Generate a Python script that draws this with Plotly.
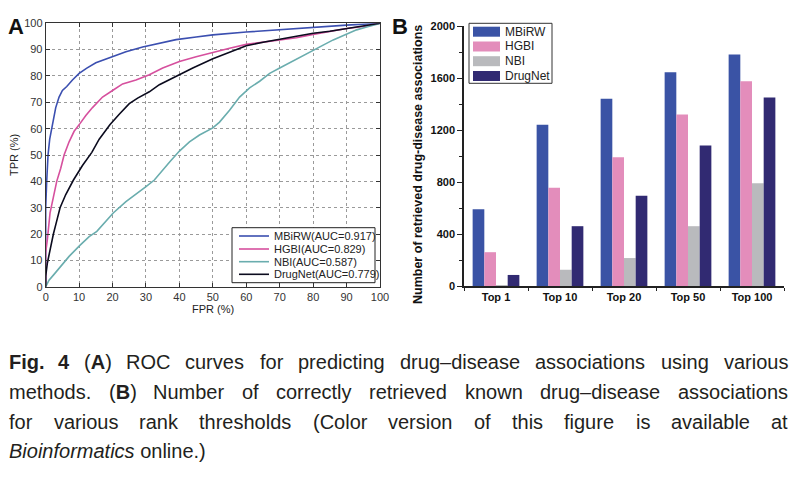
import plotly.graph_objects as go

# ---------------- data ----------------
methods = ["MBiRW", "HGBI", "NBI", "DrugNet"]
auc_values = [0.917, 0.829, 0.587, 0.779]

mbirw_fpr = [0, 0, 0.3, 0.7, 1.2, 2, 3, 4, 5, 6.3, 8, 10, 12.3, 15, 19, 24, 29, 34, 39, 45, 50, 60, 70, 80, 90, 100]
mbirw_tpr = [0, 30, 40, 50, 56, 62, 68, 72, 74.5, 76, 78.5, 81, 83, 85, 87, 89.2, 91, 92.5, 93.8, 94.8, 95.6, 96.7, 97.6, 98.5, 99.3, 100]

hgbi_fpr = [0, 0, 0.5, 1.3, 2.3, 3.3, 4.5, 5.5, 7, 8.5, 10.3, 12, 14, 17, 20, 23, 27, 31, 35, 40, 45, 50, 55, 60, 65, 70, 75, 80, 85, 90, 95, 100]
hgbi_tpr = [0, 13, 18, 28, 34, 40, 45, 50, 55, 59, 62, 65, 68, 72, 74.5, 77, 78.5, 80.5, 83, 85.5, 87.3, 89, 90.5, 92, 92.8, 93.5, 94.5, 95.8, 97, 98, 98.8, 100]

nbi_fpr = [0, 0.3, 1, 2.3, 4, 5.3, 7, 10.3, 13, 15.3, 18, 20.2, 24, 27, 30, 32.5, 35, 37.2, 40, 43, 46, 50, 52, 55, 58, 61, 64, 67, 70, 74, 77, 80, 83, 86, 90, 93, 96, 100]
nbi_tpr = [0, 0.8, 2.5, 4.4, 7, 9, 11.5, 15.8, 19, 21, 25, 28, 32.3, 35, 38, 40.5, 44, 47.5, 51.5, 55, 57.6, 60.3, 62.5, 67, 72, 75.5, 78, 81, 83, 85.6, 87.5, 89.5, 91.7, 93.7, 96, 97.5, 98.6, 100]

drugnet_fpr = [0, 0, 0.5, 0.8, 1.5, 2.3, 3.3, 4.3, 6, 8.3, 11, 13.8, 16, 19.2, 22, 25, 27.5, 31, 34, 39, 44, 50, 55, 60, 65, 70, 75, 80, 85, 90, 95, 100]
drugnet_tpr = [0, 4, 9, 11, 15, 20, 25, 30, 35, 40.5, 46, 51, 56, 61.5, 65.5, 69.5, 71.6, 74, 76.7, 80, 83, 86.5, 89, 91.5, 92.8, 94, 95, 96.2, 97, 98, 98.8, 100]

thresholds = ["Top 1", "Top 10", "Top 20", "Top 50", "Top 100"]
mbirw_counts = [590, 1240, 1440, 1645, 1780]
hgbi_counts = [260, 755, 990, 1320, 1575]
nbi_counts = [5, 125, 215, 460, 790]
drugnet_counts = [85, 460, 695, 1080, 1450]

caption_lines = [
    [("<b>Fig.</b>", "Fig."), ("<b>4</b>", "4"), ("(<b>A</b>)", "(A)"), ("ROC", "ROC"), ("curves", "curves"),
     ("for", "for"), ("predicting", "predicting"), ("drug\u2013disease", "drug\u2013disease"),
     ("associations", "associations"), ("using", "using"), ("various", "various")],
    [("methods.", "methods."), ("(<b>B</b>)", "(B)"), ("Number", "Number"), ("of", "of"),
     ("correctly", "correctly"), ("retrieved", "retrieved"), ("known", "known"),
     ("drug\u2013disease", "drug\u2013disease"), ("associations", "associations")],
    [("for", "for"), ("various", "various"), ("rank", "rank"), ("thresholds", "thresholds"),
     ("(Color", "(Color"), ("version", "version"), ("of", "of"), ("this", "this"), ("figure", "figure"),
     ("is", "is"), ("available", "available"), ("at", "at")],
]
caption_last = "<i>Bioinformatics</i> online.)"

roc_x = [mbirw_fpr, hgbi_fpr, nbi_fpr, drugnet_fpr]
roc_y = [mbirw_tpr, hgbi_tpr, nbi_tpr, drugnet_tpr]
bar_vals = [mbirw_counts, hgbi_counts, nbi_counts, drugnet_counts]

line_colors = ["#3B4FB0", "#D6509E", "#6AADAE", "#0B0B1E"]
bar_colors = ["#3A53A5", "#E38DBB", "#B9BABD", "#312A72"]

# ---------------- layout helpers ----------------
W, H = 798, 477
def px(x):
    return x / W
def py(y):
    return 1 - y / H

FONT = "Liberation Sans, Arial, Helvetica, sans-serif"
CAP_FONT = "Liberation Sans, Arial, Helvetica, sans-serif"
CAP_SIZE = 20

# approximate Arial advance widths (1/1000 em) for justifying the caption
_AW = {}
for ch in "abdeghnopqu0123456789\u2013": _AW[ch] = 556
for ch in "cksvxyz": _AW[ch] = 500
_AW.update({"i": 222, "j": 222, "l": 222, "f": 278, "t": 278, ".": 278, " ": 278, "r": 333,
            "m": 833, "w": 722, "(": 333, ")": 333, "-": 333, "F": 611, "A": 667, "B": 667,
            "C": 722, "N": 722, "O": 778, "R": 722})
def text_w(s, size):
    return sum(_AW.get(c, 556) for c in s) / 1000.0 * size

fig = go.Figure()

for i, m in enumerate(methods):
    fig.add_trace(go.Scatter(
        x=roc_x[i], y=roc_y[i], mode="lines", name=m,
        line=dict(color=line_colors[i], width=1.6),
        xaxis="x", yaxis="y", showlegend=False))

for i, m in enumerate(methods):
    fig.add_trace(go.Bar(
        x=thresholds, y=bar_vals[i], name=m,
        marker=dict(color=bar_colors[i], line=dict(width=0)),
        xaxis="x2", yaxis="y2", showlegend=False))

shapes = []
annotations = []

# Panel A legend (manual)
shapes.append(dict(type="rect", xref="paper", yref="paper",
                   x0=px(232), x1=px(375), y0=py(282.7), y1=py(227.7),
                   fillcolor="white", line=dict(color="#222", width=1), layer="above"))
rowsA = [236, 249, 261.7, 274.3]
for i, m in enumerate(methods):
    shapes.append(dict(type="line", xref="paper", yref="paper",
                       x0=px(239), x1=px(269), y0=py(rowsA[i]), y1=py(rowsA[i]),
                       line=dict(color=line_colors[i], width=1.6), layer="above"))
    annotations.append(dict(text=f"{m}(AUC={auc_values[i]:.3f})", xref="paper", yref="paper",
                            x=px(272), y=py(rowsA[i]), xanchor="left", yanchor="middle",
                            showarrow=False, font=dict(family=FONT, size=11, color="#222")))

# Panel B legend (manual)
shapes.append(dict(type="rect", xref="paper", yref="paper",
                   x0=px(469), x1=px(552), y0=py(83.3), y1=py(23.3),
                   fillcolor="white", line=dict(color="#333", width=1), layer="above"))
rowsB = [31.7, 46.5, 61.2, 76]
for i, m in enumerate(methods):
    shapes.append(dict(type="rect", xref="paper", yref="paper",
                       x0=px(473), x1=px(500), y0=py(rowsB[i] + 5), y1=py(rowsB[i] - 5),
                       fillcolor=bar_colors[i], line=dict(width=0), layer="above"))
    annotations.append(dict(text=m, xref="paper", yref="paper",
                            x=px(503), y=py(rowsB[i]), xanchor="left", yanchor="middle",
                            showarrow=False, font=dict(family=FONT, size=12, color="#222")))

# Panel letters
annotations.append(dict(text="<b>A</b>", xref="paper", yref="paper", x=px(16), y=py(27),
                        xanchor="center", yanchor="middle", showarrow=False,
                        font=dict(family=FONT, size=22, color="#111")))
annotations.append(dict(text="<b>B</b>", xref="paper", yref="paper", x=px(400), y=py(27),
                        xanchor="center", yanchor="middle", showarrow=False,
                        font=dict(family=FONT, size=22, color="#111")))

# Axis titles
annotations.append(dict(text="TPR (%)", xref="paper", yref="paper", x=px(14), y=py(155),
                        xanchor="center", yanchor="middle", textangle=-90, showarrow=False,
                        font=dict(family=FONT, size=11, color="#222")))
annotations.append(dict(text="FPR (%)", xref="paper", yref="paper", x=px(213), y=py(309),
                        xanchor="center", yanchor="middle", showarrow=False,
                        font=dict(family=FONT, size=11, color="#222")))
annotations.append(dict(text="<b>Number of retrieved drug-disease associations</b>", xref="paper", yref="paper",
                        x=px(418), y=py(165), xanchor="center", yanchor="middle", textangle=-90,
                        showarrow=False, font=dict(family=FONT, size=12.5, color="#111")))

# Caption: justified lines, one annotation per word
cap_font = dict(family=CAP_FONT, size=CAP_SIZE, color="#231F20")
cap_left, cap_right = 8, 787
cap_y = [362, 392, 422]
for words, yy in zip(caption_lines, cap_y):
    widths = [text_w(p, CAP_SIZE) for _, p in words]
    gap = (cap_right - cap_left - sum(widths)) / (len(words) - 1)
    xx = cap_left
    for (html, _), w in zip(words, widths):
        annotations.append(dict(text=html, xref="paper", yref="paper", x=px(xx), y=py(yy),
                                xanchor="left", yanchor="middle", showarrow=False, font=cap_font,
                                borderpad=0))
        xx += w + gap
annotations.append(dict(text=caption_last, xref="paper", yref="paper", x=px(cap_left), y=py(451),
                        xanchor="left", yanchor="middle", showarrow=False, font=cap_font, borderpad=0))

axA_common = dict(showline=True, linecolor="#333", linewidth=1, mirror="ticks",
                  ticks="inside", ticklen=4, tickcolor="#333", zeroline=False, automargin=False,
                  showgrid=True, gridcolor="#9a9a9a", griddash="dot", gridwidth=1,
                  tickfont=dict(family=FONT, size=11, color="#333"))

fig.update_layout(
    width=W, height=H, margin=dict(l=0, r=0, t=0, b=0, autoexpand=False),
    paper_bgcolor="white", plot_bgcolor="white",
    showlegend=False,
    barmode="group", bargap=0.27, bargroupgap=0,
    xaxis=dict(domain=[px(45.7), px(380)], range=[0, 100], dtick=10, anchor="y", **axA_common),
    yaxis=dict(domain=[py(286.7), py(23.3)], range=[0, 100], dtick=10, anchor="x", **axA_common),
    xaxis2=dict(domain=[px(464), px(784)], anchor="y2", type="category", range=[-0.5, 4.5],
                showline=True, linecolor="#222", linewidth=1.5, ticks="outside", tickson="boundaries",
                ticklen=3, tickcolor="#222", showgrid=False, zeroline=False, automargin=False,
                tickfont=dict(family=FONT, size=11, color="#111", weight="bold")),
    yaxis2=dict(domain=[py(286), py(26)], anchor="x2", range=[0, 2000], dtick=400, tick0=0,
                showline=True, linecolor="#222", linewidth=1.5, ticks="outside", ticklen=5,
                tickcolor="#222", showgrid=False, zeroline=False, automargin=False,
                minor=dict(dtick=200, ticks="outside", ticklen=3, tickcolor="#222", showgrid=False),
                tickfont=dict(family=FONT, size=11, color="#111", weight="bold")),
    shapes=shapes, annotations=annotations,
)

fig.write_html("out.html", config={"displayModeBar": False},
               post_script="document.body.style.margin='0';document.body.style.overflow='hidden';")
